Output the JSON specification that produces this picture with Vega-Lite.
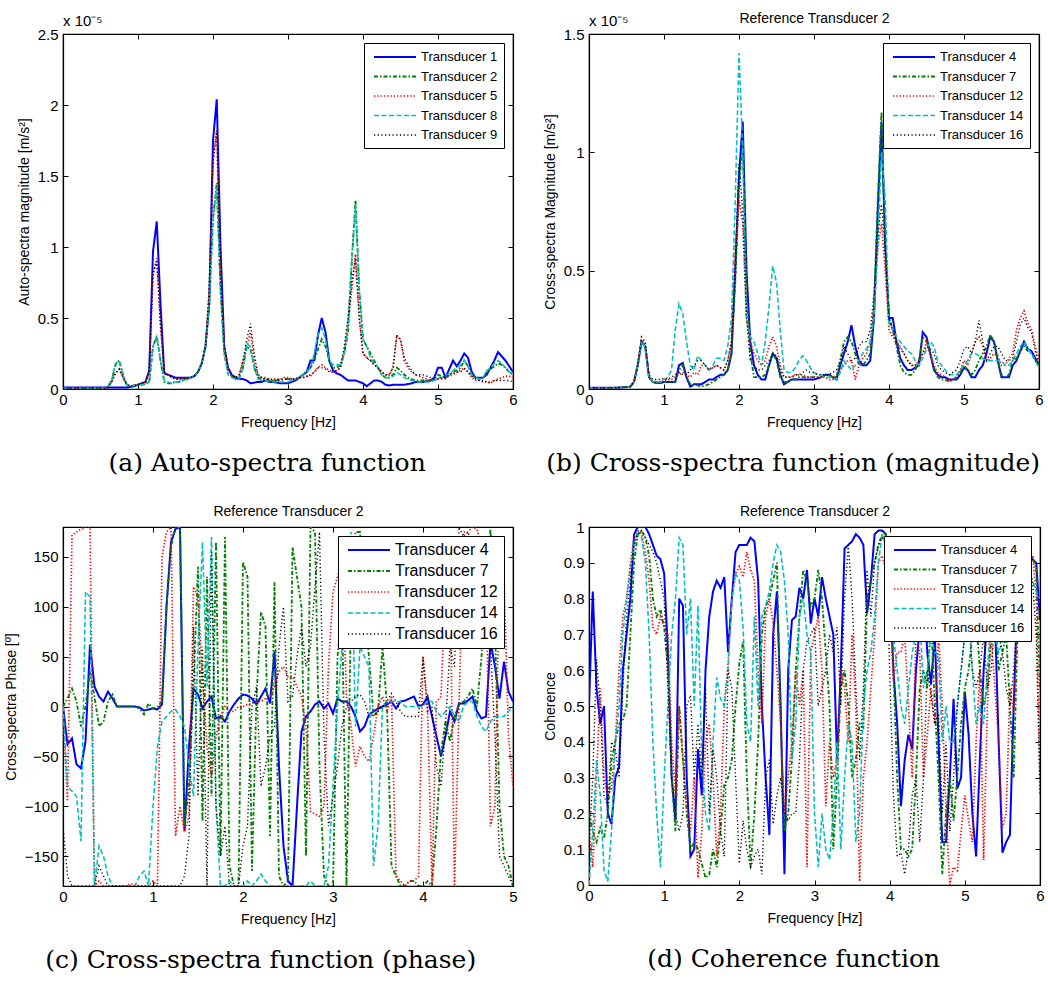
{
"$schema":"https://vega.github.io/schema/vega-lite/v6.json",
"padding":{"left":3,"top":10,"right":2,"bottom":2},
"config":{
 "font":"Liberation Sans",
 "view":{"stroke":"black","strokeWidth":1.2},
 "axis":{"domainColor":"black","domainWidth":1.2,"tickColor":"black","tickSize":-5,"labelPadding":10,"labelFontSize":15,"labelColor":"black","titleFontSize":14,"titleFontWeight":"normal","titleColor":"black","grid":false,"labelFlush":false,"labelOverlap":false},
 "axisY":{"titlePadding":6},
 "axisX":{"titlePadding":8,"labelPadding":8},
 "legend":{"orient":"top-right","offset":9,"strokeColor":"black","fillColor":"white","padding":6,"labelFontSize":13,"labelColor":"black","symbolType":"M-3,0L3,0","symbolSize":196,"symbolOffset":17,"labelOffset":18,"rowPadding":4.5,"cornerRadius":0},
 "title":{"font":"DejaVu Serif","fontSize":25,"fontWeight":"normal","color":"black","anchor":"middle","frame":"bounds","orient":"bottom","offset":22},
 "text":{"font":"Liberation Sans"}
},
"datasets":{
"a":[
{"f":0,"T1":0.01,"T2":0.005,"T5":0.005,"T8":0.005,"T9":0.005},
{"f":0.1,"T1":0.01,"T2":0.005,"T5":0.005,"T8":0.005,"T9":0.005},
{"f":0.2,"T1":0.01,"T2":0.005,"T5":0.005,"T8":0.005,"T9":0.005},
{"f":0.3,"T1":0.01,"T2":0.005,"T5":0.005,"T8":0.005,"T9":0.005},
{"f":0.4,"T1":0.01,"T2":0.005,"T5":0.005,"T8":0.005,"T9":0.005},
{"f":0.5,"T1":0.01,"T2":0.005,"T5":0.005,"T8":0.005,"T9":0.005},
{"f":0.55,"T1":0.01,"T2":0.005,"T5":0.005,"T8":0.005,"T9":0.005},
{"f":0.6,"T1":0.01,"T2":0.02,"T5":0.01,"T8":0.02,"T9":0.01},
{"f":0.65,"T1":0.01,"T2":0.06,"T5":0.05,"T8":0.06,"T9":0.05},
{"f":0.7,"T1":0.01,"T2":0.17,"T5":0.11,"T8":0.18,"T9":0.11},
{"f":0.75,"T1":0.01,"T2":0.2,"T5":0.14,"T8":0.2,"T9":0.14},
{"f":0.8,"T1":0.01,"T2":0.1,"T5":0.08,"T8":0.1,"T9":0.08},
{"f":0.85,"T1":0.01,"T2":0.03,"T5":0.03,"T8":0.03,"T9":0.03},
{"f":0.9,"T1":0.015,"T2":0.02,"T5":0.02,"T8":0.02,"T9":0.02},
{"f":0.95,"T1":0.02,"T2":0.025,"T5":0.025,"T8":0.025,"T9":0.025},
{"f":1.0,"T1":0.03,"T2":0.03,"T5":0.03,"T8":0.03,"T9":0.03},
{"f":1.05,"T1":0.04,"T2":0.03,"T5":0.04,"T8":0.03,"T9":0.04},
{"f":1.1,"T1":0.05,"T2":0.035,"T5":0.05,"T8":0.035,"T9":0.05},
{"f":1.15,"T1":0.13,"T2":0.05,"T5":0.12,"T8":0.05,"T9":0.12},
{"f":1.2,"T1":0.97,"T2":0.3,"T5":0.8,"T8":0.3,"T9":0.82},
{"f":1.25,"T1":1.18,"T2":0.37,"T5":0.92,"T8":0.37,"T9":0.9},
{"f":1.3,"T1":0.6,"T2":0.2,"T5":0.45,"T8":0.2,"T9":0.45},
{"f":1.35,"T1":0.11,"T2":0.05,"T5":0.12,"T8":0.06,"T9":0.12},
{"f":1.4,"T1":0.1,"T2":0.04,"T5":0.1,"T8":0.05,"T9":0.1},
{"f":1.45,"T1":0.09,"T2":0.04,"T5":0.08,"T8":0.04,"T9":0.08},
{"f":1.5,"T1":0.08,"T2":0.05,"T5":0.07,"T8":0.05,"T9":0.07},
{"f":1.55,"T1":0.08,"T2":0.05,"T5":0.07,"T8":0.05,"T9":0.07},
{"f":1.6,"T1":0.08,"T2":0.06,"T5":0.07,"T8":0.06,"T9":0.07},
{"f":1.65,"T1":0.08,"T2":0.07,"T5":0.08,"T8":0.07,"T9":0.08},
{"f":1.7,"T1":0.08,"T2":0.08,"T5":0.08,"T8":0.08,"T9":0.08},
{"f":1.75,"T1":0.09,"T2":0.09,"T5":0.09,"T8":0.09,"T9":0.09},
{"f":1.8,"T1":0.12,"T2":0.12,"T5":0.12,"T8":0.12,"T9":0.12},
{"f":1.85,"T1":0.18,"T2":0.18,"T5":0.18,"T8":0.18,"T9":0.18},
{"f":1.9,"T1":0.3,"T2":0.3,"T5":0.3,"T8":0.3,"T9":0.3},
{"f":1.95,"T1":0.6,"T2":0.6,"T5":0.7,"T8":0.6,"T9":0.7},
{"f":2.0,"T1":1.75,"T2":1.2,"T5":1.6,"T8":1.2,"T9":1.6},
{"f":2.05,"T1":2.04,"T2":1.45,"T5":1.82,"T8":1.42,"T9":1.82},
{"f":2.1,"T1":1.0,"T2":0.7,"T5":0.8,"T8":0.7,"T9":0.8},
{"f":2.15,"T1":0.3,"T2":0.25,"T5":0.3,"T8":0.25,"T9":0.3},
{"f":2.2,"T1":0.15,"T2":0.12,"T5":0.15,"T8":0.1,"T9":0.15},
{"f":2.25,"T1":0.1,"T2":0.09,"T5":0.1,"T8":0.08,"T9":0.1},
{"f":2.3,"T1":0.08,"T2":0.07,"T5":0.08,"T8":0.07,"T9":0.08},
{"f":2.35,"T1":0.07,"T2":0.08,"T5":0.1,"T8":0.07,"T9":0.1},
{"f":2.4,"T1":0.07,"T2":0.15,"T5":0.2,"T8":0.15,"T9":0.2},
{"f":2.45,"T1":0.06,"T2":0.3,"T5":0.3,"T8":0.32,"T9":0.35},
{"f":2.5,"T1":0.04,"T2":0.28,"T5":0.4,"T8":0.3,"T9":0.46},
{"f":2.55,"T1":0.045,"T2":0.15,"T5":0.2,"T8":0.15,"T9":0.25},
{"f":2.6,"T1":0.05,"T2":0.08,"T5":0.1,"T8":0.07,"T9":0.1},
{"f":2.65,"T1":0.05,"T2":0.07,"T5":0.08,"T8":0.06,"T9":0.08},
{"f":2.7,"T1":0.06,"T2":0.07,"T5":0.08,"T8":0.06,"T9":0.07},
{"f":2.75,"T1":0.05,"T2":0.06,"T5":0.07,"T8":0.05,"T9":0.07},
{"f":2.8,"T1":0.05,"T2":0.06,"T5":0.07,"T8":0.05,"T9":0.06},
{"f":2.85,"T1":0.045,"T2":0.06,"T5":0.07,"T8":0.05,"T9":0.06},
{"f":2.9,"T1":0.04,"T2":0.07,"T5":0.07,"T8":0.05,"T9":0.06},
{"f":2.95,"T1":0.04,"T2":0.07,"T5":0.08,"T8":0.05,"T9":0.07},
{"f":3.0,"T1":0.04,"T2":0.07,"T5":0.08,"T8":0.05,"T9":0.07},
{"f":3.05,"T1":0.05,"T2":0.07,"T5":0.07,"T8":0.06,"T9":0.07},
{"f":3.1,"T1":0.06,"T2":0.07,"T5":0.07,"T8":0.07,"T9":0.07},
{"f":3.15,"T1":0.08,"T2":0.08,"T5":0.08,"T8":0.08,"T9":0.08},
{"f":3.2,"T1":0.1,"T2":0.1,"T5":0.08,"T8":0.1,"T9":0.08},
{"f":3.25,"T1":0.12,"T2":0.12,"T5":0.09,"T8":0.12,"T9":0.09},
{"f":3.3,"T1":0.2,"T2":0.15,"T5":0.1,"T8":0.15,"T9":0.09},
{"f":3.35,"T1":0.2,"T2":0.2,"T5":0.12,"T8":0.25,"T9":0.12},
{"f":3.4,"T1":0.38,"T2":0.28,"T5":0.15,"T8":0.38,"T9":0.15},
{"f":3.45,"T1":0.5,"T2":0.35,"T5":0.17,"T8":0.43,"T9":0.15},
{"f":3.5,"T1":0.4,"T2":0.3,"T5":0.15,"T8":0.35,"T9":0.14},
{"f":3.55,"T1":0.2,"T2":0.2,"T5":0.13,"T8":0.2,"T9":0.12},
{"f":3.6,"T1":0.13,"T2":0.15,"T5":0.12,"T8":0.17,"T9":0.12},
{"f":3.65,"T1":0.11,"T2":0.15,"T5":0.13,"T8":0.17,"T9":0.13},
{"f":3.7,"T1":0.1,"T2":0.17,"T5":0.15,"T8":0.17,"T9":0.15},
{"f":3.75,"T1":0.08,"T2":0.25,"T5":0.25,"T8":0.25,"T9":0.3},
{"f":3.8,"T1":0.06,"T2":0.4,"T5":0.45,"T8":0.45,"T9":0.5},
{"f":3.85,"T1":0.06,"T2":0.9,"T5":0.7,"T8":0.9,"T9":0.75},
{"f":3.9,"T1":0.06,"T2":1.33,"T5":0.95,"T8":1.3,"T9":0.92},
{"f":3.95,"T1":0.05,"T2":0.7,"T5":0.5,"T8":0.7,"T9":0.5},
{"f":4.0,"T1":0.04,"T2":0.35,"T5":0.25,"T8":0.35,"T9":0.25},
{"f":4.05,"T1":0.02,"T2":0.3,"T5":0.22,"T8":0.3,"T9":0.22},
{"f":4.1,"T1":0.04,"T2":0.25,"T5":0.2,"T8":0.22,"T9":0.2},
{"f":4.15,"T1":0.06,"T2":0.2,"T5":0.17,"T8":0.18,"T9":0.17},
{"f":4.2,"T1":0.06,"T2":0.15,"T5":0.15,"T8":0.15,"T9":0.15},
{"f":4.25,"T1":0.05,"T2":0.1,"T5":0.12,"T8":0.1,"T9":0.12},
{"f":4.3,"T1":0.03,"T2":0.08,"T5":0.1,"T8":0.08,"T9":0.1},
{"f":4.35,"T1":0.025,"T2":0.08,"T5":0.1,"T8":0.08,"T9":0.1},
{"f":4.4,"T1":0.03,"T2":0.1,"T5":0.15,"T8":0.09,"T9":0.15},
{"f":4.45,"T1":0.03,"T2":0.15,"T5":0.37,"T8":0.12,"T9":0.38},
{"f":4.5,"T1":0.03,"T2":0.13,"T5":0.35,"T8":0.1,"T9":0.35},
{"f":4.55,"T1":0.03,"T2":0.1,"T5":0.2,"T8":0.08,"T9":0.22},
{"f":4.6,"T1":0.035,"T2":0.08,"T5":0.15,"T8":0.07,"T9":0.17},
{"f":4.65,"T1":0.04,"T2":0.07,"T5":0.12,"T8":0.06,"T9":0.13},
{"f":4.7,"T1":0.05,"T2":0.06,"T5":0.1,"T8":0.05,"T9":0.1},
{"f":4.75,"T1":0.05,"T2":0.06,"T5":0.09,"T8":0.05,"T9":0.1},
{"f":4.8,"T1":0.05,"T2":0.06,"T5":0.08,"T8":0.05,"T9":0.1},
{"f":4.85,"T1":0.055,"T2":0.06,"T5":0.07,"T8":0.05,"T9":0.09},
{"f":4.9,"T1":0.06,"T2":0.06,"T5":0.06,"T8":0.05,"T9":0.08},
{"f":4.95,"T1":0.08,"T2":0.07,"T5":0.06,"T8":0.06,"T9":0.07},
{"f":5.0,"T1":0.15,"T2":0.1,"T5":0.07,"T8":0.08,"T9":0.07},
{"f":5.05,"T1":0.15,"T2":0.09,"T5":0.07,"T8":0.08,"T9":0.08},
{"f":5.1,"T1":0.08,"T2":0.08,"T5":0.08,"T8":0.09,"T9":0.08},
{"f":5.15,"T1":0.14,"T2":0.1,"T5":0.09,"T8":0.11,"T9":0.1},
{"f":5.2,"T1":0.2,"T2":0.12,"T5":0.1,"T8":0.13,"T9":0.11},
{"f":5.25,"T1":0.16,"T2":0.13,"T5":0.12,"T8":0.15,"T9":0.12},
{"f":5.3,"T1":0.2,"T2":0.15,"T5":0.13,"T8":0.17,"T9":0.12},
{"f":5.35,"T1":0.25,"T2":0.2,"T5":0.15,"T8":0.2,"T9":0.14},
{"f":5.4,"T1":0.22,"T2":0.16,"T5":0.12,"T8":0.16,"T9":0.12},
{"f":5.45,"T1":0.12,"T2":0.1,"T5":0.08,"T8":0.1,"T9":0.09},
{"f":5.5,"T1":0.08,"T2":0.08,"T5":0.06,"T8":0.08,"T9":0.07},
{"f":5.55,"T1":0.08,"T2":0.07,"T5":0.06,"T8":0.07,"T9":0.06},
{"f":5.6,"T1":0.08,"T2":0.08,"T5":0.05,"T8":0.08,"T9":0.06},
{"f":5.65,"T1":0.1,"T2":0.12,"T5":0.05,"T8":0.13,"T9":0.05},
{"f":5.7,"T1":0.15,"T2":0.14,"T5":0.04,"T8":0.15,"T9":0.05},
{"f":5.75,"T1":0.2,"T2":0.16,"T5":0.06,"T8":0.18,"T9":0.06},
{"f":5.8,"T1":0.26,"T2":0.18,"T5":0.07,"T8":0.2,"T9":0.06},
{"f":5.85,"T1":0.23,"T2":0.17,"T5":0.08,"T8":0.18,"T9":0.06},
{"f":5.9,"T1":0.2,"T2":0.15,"T5":0.09,"T8":0.15,"T9":0.06},
{"f":5.95,"T1":0.16,"T2":0.12,"T5":0.09,"T8":0.12,"T9":0.06},
{"f":6.0,"T1":0.12,"T2":0.1,"T5":0.08,"T8":0.1,"T9":0.05}
],
"b":[
{"f":0,"T4":0.005,"T7":0.005,"T12":0.005,"T14":0.005,"T16":0.005},
{"f":0.1,"T4":0.005,"T7":0.005,"T12":0.005,"T14":0.005,"T16":0.005},
{"f":0.2,"T4":0.005,"T7":0.005,"T12":0.005,"T14":0.005,"T16":0.005},
{"f":0.3,"T4":0.005,"T7":0.005,"T12":0.005,"T14":0.005,"T16":0.005},
{"f":0.4,"T4":0.006,"T7":0.006,"T12":0.006,"T14":0.006,"T16":0.006},
{"f":0.5,"T4":0.008,"T7":0.008,"T12":0.008,"T14":0.008,"T16":0.008},
{"f":0.55,"T4":0.01,"T7":0.01,"T12":0.01,"T14":0.01,"T16":0.01},
{"f":0.6,"T4":0.03,"T7":0.03,"T12":0.03,"T14":0.03,"T16":0.03},
{"f":0.65,"T4":0.1,"T7":0.1,"T12":0.1,"T14":0.1,"T16":0.1},
{"f":0.7,"T4":0.2,"T7":0.2,"T12":0.21,"T14":0.2,"T16":0.22},
{"f":0.75,"T4":0.18,"T7":0.18,"T12":0.19,"T14":0.18,"T16":0.2},
{"f":0.8,"T4":0.05,"T7":0.05,"T12":0.05,"T14":0.05,"T16":0.06},
{"f":0.85,"T4":0.03,"T7":0.03,"T12":0.03,"T14":0.03,"T16":0.04},
{"f":0.9,"T4":0.025,"T7":0.025,"T12":0.03,"T14":0.03,"T16":0.04},
{"f":0.95,"T4":0.025,"T7":0.025,"T12":0.03,"T14":0.03,"T16":0.04},
{"f":1.0,"T4":0.03,"T7":0.03,"T12":0.035,"T14":0.04,"T16":0.045},
{"f":1.05,"T4":0.03,"T7":0.03,"T12":0.04,"T14":0.05,"T16":0.04},
{"f":1.1,"T4":0.03,"T7":0.03,"T12":0.04,"T14":0.08,"T16":0.05},
{"f":1.15,"T4":0.03,"T7":0.03,"T12":0.05,"T14":0.25,"T16":0.06},
{"f":1.2,"T4":0.1,"T7":0.08,"T12":0.06,"T14":0.36,"T16":0.07},
{"f":1.25,"T4":0.11,"T7":0.1,"T12":0.07,"T14":0.32,"T16":0.06},
{"f":1.3,"T4":0.05,"T7":0.05,"T12":0.06,"T14":0.2,"T16":0.06},
{"f":1.35,"T4":0.01,"T7":0.02,"T12":0.05,"T14":0.1,"T16":0.08},
{"f":1.4,"T4":0.02,"T7":0.02,"T12":0.07,"T14":0.08,"T16":0.1},
{"f":1.45,"T4":0.02,"T7":0.015,"T12":0.06,"T14":0.14,"T16":0.12},
{"f":1.5,"T4":0.02,"T7":0.01,"T12":0.1,"T14":0.12,"T16":0.12},
{"f":1.55,"T4":0.03,"T7":0.015,"T12":0.1,"T14":0.1,"T16":0.1},
{"f":1.6,"T4":0.04,"T7":0.02,"T12":0.08,"T14":0.08,"T16":0.08},
{"f":1.65,"T4":0.04,"T7":0.03,"T12":0.09,"T14":0.1,"T16":0.09},
{"f":1.7,"T4":0.05,"T7":0.04,"T12":0.1,"T14":0.13,"T16":0.1},
{"f":1.75,"T4":0.06,"T7":0.05,"T12":0.09,"T14":0.13,"T16":0.09},
{"f":1.8,"T4":0.06,"T7":0.06,"T12":0.08,"T14":0.12,"T16":0.08},
{"f":1.85,"T4":0.08,"T7":0.08,"T12":0.12,"T14":0.18,"T16":0.12},
{"f":1.9,"T4":0.15,"T7":0.15,"T12":0.2,"T14":0.3,"T16":0.2},
{"f":1.95,"T4":0.5,"T7":0.45,"T12":0.6,"T14":0.8,"T16":0.5},
{"f":2.0,"T4":0.9,"T7":0.85,"T12":0.8,"T14":1.42,"T16":0.95},
{"f":2.05,"T4":1.13,"T7":1.05,"T12":0.7,"T14":1.0,"T16":0.75},
{"f":2.1,"T4":0.5,"T7":0.4,"T12":0.3,"T14":0.3,"T16":0.3},
{"f":2.15,"T4":0.2,"T7":0.15,"T12":0.2,"T14":0.22,"T16":0.12},
{"f":2.2,"T4":0.1,"T7":0.05,"T12":0.15,"T14":0.2,"T16":0.1},
{"f":2.25,"T4":0.06,"T7":0.05,"T12":0.12,"T14":0.15,"T16":0.08},
{"f":2.3,"T4":0.04,"T7":0.05,"T12":0.1,"T14":0.1,"T16":0.08},
{"f":2.35,"T4":0.04,"T7":0.06,"T12":0.12,"T14":0.2,"T16":0.1},
{"f":2.4,"T4":0.1,"T7":0.1,"T12":0.18,"T14":0.35,"T16":0.12},
{"f":2.45,"T4":0.15,"T7":0.15,"T12":0.22,"T14":0.52,"T16":0.15},
{"f":2.5,"T4":0.13,"T7":0.12,"T12":0.18,"T14":0.45,"T16":0.14},
{"f":2.55,"T4":0.06,"T7":0.05,"T12":0.1,"T14":0.25,"T16":0.08},
{"f":2.6,"T4":0.02,"T7":0.03,"T12":0.05,"T14":0.08,"T16":0.05},
{"f":2.65,"T4":0.03,"T7":0.03,"T12":0.05,"T14":0.07,"T16":0.05},
{"f":2.7,"T4":0.04,"T7":0.04,"T12":0.05,"T14":0.07,"T16":0.05},
{"f":2.75,"T4":0.04,"T7":0.04,"T12":0.06,"T14":0.09,"T16":0.06},
{"f":2.8,"T4":0.04,"T7":0.05,"T12":0.06,"T14":0.12,"T16":0.06},
{"f":2.85,"T4":0.04,"T7":0.05,"T12":0.06,"T14":0.14,"T16":0.07},
{"f":2.9,"T4":0.04,"T7":0.05,"T12":0.05,"T14":0.12,"T16":0.08},
{"f":2.95,"T4":0.04,"T7":0.05,"T12":0.05,"T14":0.09,"T16":0.07},
{"f":3.0,"T4":0.04,"T7":0.05,"T12":0.05,"T14":0.07,"T16":0.07},
{"f":3.05,"T4":0.045,"T7":0.05,"T12":0.05,"T14":0.06,"T16":0.06},
{"f":3.1,"T4":0.05,"T7":0.05,"T12":0.05,"T14":0.06,"T16":0.06},
{"f":3.15,"T4":0.06,"T7":0.06,"T12":0.05,"T14":0.05,"T16":0.06},
{"f":3.2,"T4":0.06,"T7":0.06,"T12":0.04,"T14":0.05,"T16":0.06},
{"f":3.25,"T4":0.05,"T7":0.05,"T12":0.04,"T14":0.05,"T16":0.07},
{"f":3.3,"T4":0.04,"T7":0.05,"T12":0.06,"T14":0.04,"T16":0.08},
{"f":3.35,"T4":0.1,"T7":0.12,"T12":0.08,"T14":0.07,"T16":0.12},
{"f":3.4,"T4":0.15,"T7":0.2,"T12":0.1,"T14":0.12,"T16":0.18},
{"f":3.45,"T4":0.2,"T7":0.22,"T12":0.12,"T14":0.1,"T16":0.15},
{"f":3.5,"T4":0.27,"T7":0.2,"T12":0.12,"T14":0.08,"T16":0.12},
{"f":3.55,"T4":0.18,"T7":0.15,"T12":0.04,"T14":0.1,"T16":0.13},
{"f":3.6,"T4":0.12,"T7":0.1,"T12":0.1,"T14":0.12,"T16":0.18},
{"f":3.65,"T4":0.1,"T7":0.1,"T12":0.13,"T14":0.15,"T16":0.2},
{"f":3.7,"T4":0.1,"T7":0.12,"T12":0.15,"T14":0.17,"T16":0.2},
{"f":3.75,"T4":0.12,"T7":0.15,"T12":0.2,"T14":0.2,"T16":0.25},
{"f":3.8,"T4":0.3,"T7":0.35,"T12":0.35,"T14":0.3,"T16":0.4},
{"f":3.85,"T4":0.75,"T7":0.8,"T12":0.6,"T14":0.6,"T16":0.65},
{"f":3.9,"T4":1.13,"T7":1.17,"T12":0.7,"T14":1.0,"T16":0.78},
{"f":3.95,"T4":0.6,"T7":0.6,"T12":0.5,"T14":0.8,"T16":0.6},
{"f":4.0,"T4":0.3,"T7":0.3,"T12":0.25,"T14":0.28,"T16":0.3},
{"f":4.05,"T4":0.3,"T7":0.25,"T12":0.22,"T14":0.25,"T16":0.25},
{"f":4.1,"T4":0.2,"T7":0.18,"T12":0.2,"T14":0.22,"T16":0.2},
{"f":4.15,"T4":0.13,"T7":0.1,"T12":0.18,"T14":0.2,"T16":0.17},
{"f":4.2,"T4":0.1,"T7":0.07,"T12":0.15,"T14":0.18,"T16":0.15},
{"f":4.25,"T4":0.08,"T7":0.06,"T12":0.12,"T14":0.16,"T16":0.12},
{"f":4.3,"T4":0.08,"T7":0.06,"T12":0.1,"T14":0.15,"T16":0.1},
{"f":4.35,"T4":0.09,"T7":0.08,"T12":0.1,"T14":0.12,"T16":0.1},
{"f":4.4,"T4":0.1,"T7":0.12,"T12":0.12,"T14":0.1,"T16":0.12},
{"f":4.45,"T4":0.24,"T7":0.22,"T12":0.15,"T14":0.13,"T16":0.15},
{"f":4.5,"T4":0.22,"T7":0.2,"T12":0.2,"T14":0.17,"T16":0.18},
{"f":4.55,"T4":0.15,"T7":0.15,"T12":0.15,"T14":0.2,"T16":0.17},
{"f":4.6,"T4":0.08,"T7":0.09,"T12":0.1,"T14":0.18,"T16":0.15},
{"f":4.65,"T4":0.06,"T7":0.05,"T12":0.07,"T14":0.12,"T16":0.1},
{"f":4.7,"T4":0.05,"T7":0.04,"T12":0.06,"T14":0.1,"T16":0.08},
{"f":4.75,"T4":0.05,"T7":0.04,"T12":0.05,"T14":0.08,"T16":0.07},
{"f":4.8,"T4":0.04,"T7":0.03,"T12":0.03,"T14":0.06,"T16":0.06},
{"f":4.85,"T4":0.04,"T7":0.04,"T12":0.04,"T14":0.06,"T16":0.07},
{"f":4.9,"T4":0.04,"T7":0.05,"T12":0.05,"T14":0.06,"T16":0.08},
{"f":4.95,"T4":0.06,"T7":0.07,"T12":0.08,"T14":0.08,"T16":0.12},
{"f":5.0,"T4":0.09,"T7":0.1,"T12":0.12,"T14":0.1,"T16":0.17},
{"f":5.05,"T4":0.08,"T7":0.08,"T12":0.1,"T14":0.12,"T16":0.18},
{"f":5.1,"T4":0.05,"T7":0.06,"T12":0.15,"T14":0.15,"T16":0.15},
{"f":5.15,"T4":0.05,"T7":0.08,"T12":0.2,"T14":0.15,"T16":0.2},
{"f":5.2,"T4":0.08,"T7":0.12,"T12":0.22,"T14":0.14,"T16":0.29},
{"f":5.25,"T4":0.1,"T7":0.15,"T12":0.18,"T14":0.13,"T16":0.2},
{"f":5.3,"T4":0.15,"T7":0.18,"T12":0.12,"T14":0.12,"T16":0.12},
{"f":5.35,"T4":0.22,"T7":0.23,"T12":0.13,"T14":0.12,"T16":0.15},
{"f":5.4,"T4":0.2,"T7":0.2,"T12":0.15,"T14":0.12,"T16":0.18},
{"f":5.45,"T4":0.12,"T7":0.12,"T12":0.14,"T14":0.12,"T16":0.18},
{"f":5.5,"T4":0.05,"T7":0.06,"T12":0.1,"T14":0.12,"T16":0.15},
{"f":5.55,"T4":0.05,"T7":0.05,"T12":0.1,"T14":0.1,"T16":0.12},
{"f":5.6,"T4":0.05,"T7":0.06,"T12":0.13,"T14":0.1,"T16":0.12},
{"f":5.65,"T4":0.1,"T7":0.12,"T12":0.15,"T14":0.12,"T16":0.13},
{"f":5.7,"T4":0.12,"T7":0.13,"T12":0.25,"T14":0.15,"T16":0.2},
{"f":5.75,"T4":0.16,"T7":0.16,"T12":0.3,"T14":0.18,"T16":0.27},
{"f":5.8,"T4":0.2,"T7":0.18,"T12":0.33,"T14":0.2,"T16":0.3},
{"f":5.85,"T4":0.17,"T7":0.16,"T12":0.28,"T14":0.17,"T16":0.26},
{"f":5.9,"T4":0.16,"T7":0.15,"T12":0.25,"T14":0.15,"T16":0.24},
{"f":5.95,"T4":0.13,"T7":0.12,"T12":0.18,"T14":0.12,"T16":0.16},
{"f":6.0,"T4":0.1,"T7":0.1,"T12":0.12,"T14":0.09,"T16":0.1}
],
"c":[
{"f":0,"T4":0,"T7":0,"T12":-10,"T14":0,"T16":-120},
{"f":0.05,"T4":-38,"T7":8,"T12":-95,"T14":-80,"T16":-170},
{"f":0.1,"T4":-32,"T7":18,"T12":172,"T14":-85,"T16":-180},
{"f":0.15,"T4":-58,"T7":5,"T12":175,"T14":-90,"T16":-180},
{"f":0.2,"T4":-62,"T7":-20,"T12":178,"T14":-135,"T16":-180},
{"f":0.25,"T4":-35,"T7":0,"T12":180,"T14":115,"T16":-180},
{"f":0.3,"T4":62,"T7":35,"T12":180,"T14":110,"T16":-180},
{"f":0.35,"T4":20,"T7":10,"T12":-180,"T14":-180,"T16":-180},
{"f":0.4,"T4":10,"T7":-20,"T12":-175,"T14":-140,"T16":-160},
{"f":0.45,"T4":5,"T7":-15,"T12":-180,"T14":-150,"T16":-170},
{"f":0.5,"T4":15,"T7":5,"T12":-180,"T14":-170,"T16":-180},
{"f":0.55,"T4":8,"T7":12,"T12":-180,"T14":-180,"T16":-180},
{"f":0.6,"T4":0,"T7":0,"T12":-180,"T14":-180,"T16":-180},
{"f":0.65,"T4":0,"T7":0,"T12":-180,"T14":-180,"T16":-180},
{"f":0.7,"T4":0,"T7":0,"T12":-180,"T14":-180,"T16":-180},
{"f":0.75,"T4":0,"T7":0,"T12":-178,"T14":-180,"T16":-180},
{"f":0.8,"T4":0,"T7":0,"T12":-178,"T14":-180,"T16":-180},
{"f":0.85,"T4":-1,"T7":-2,"T12":-180,"T14":-170,"T16":-180},
{"f":0.9,"T4":-4,"T7":-8,"T12":-180,"T14":-165,"T16":-180},
{"f":0.95,"T4":-3,"T7":3,"T12":-180,"T14":-180,"T16":-180},
{"f":1.0,"T4":-2,"T7":-2,"T12":-175,"T14":-100,"T16":-180},
{"f":1.05,"T4":-3,"T7":0,"T12":-180,"T14":-40,"T16":-180},
{"f":1.1,"T4":2,"T7":5,"T12":150,"T14":-15,"T16":-180},
{"f":1.15,"T4":100,"T7":100,"T12":175,"T14":-10,"T16":-180},
{"f":1.2,"T4":165,"T7":160,"T12":180,"T14":-5,"T16":-180},
{"f":1.25,"T4":178,"T7":180,"T12":-130,"T14":-3,"T16":-180},
{"f":1.3,"T4":180,"T7":180,"T12":-100,"T14":-10,"T16":-180},
{"f":1.35,"T4":-125,"T7":-120,"T12":-125,"T14":-20,"T16":-170},
{"f":1.4,"T4":-40,"T7":-80,"T12":-110,"T14":-60,"T16":-130},
{"f":1.45,"T4":18,"T7":20,"T12":120,"T14":-90,"T16":80},
{"f":1.5,"T4":12,"T7":140,"T12":110,"T14":60,"T16":-90},
{"f":1.55,"T4":-2,"T7":-115,"T12":30,"T14":165,"T16":60},
{"f":1.6,"T4":5,"T7":130,"T12":-40,"T14":20,"T16":-180},
{"f":1.65,"T4":10,"T7":-90,"T12":-70,"T14":170,"T16":155},
{"f":1.7,"T4":-12,"T7":165,"T12":-30,"T14":-100,"T16":-100},
{"f":1.75,"T4":-10,"T7":-150,"T12":-10,"T14":-180,"T16":-150},
{"f":1.8,"T4":-15,"T7":170,"T12":0,"T14":-180,"T16":-120},
{"f":1.85,"T4":-5,"T7":-160,"T12":-5,"T14":-175,"T16":-180},
{"f":1.9,"T4":2,"T7":-180,"T12":-5,"T14":-180,"T16":-180},
{"f":1.95,"T4":8,"T7":-180,"T12":0,"T14":-180,"T16":-180},
{"f":2.0,"T4":12,"T7":145,"T12":0,"T14":-180,"T16":-140},
{"f":2.05,"T4":11,"T7":130,"T12":2,"T14":-175,"T16":-120},
{"f":2.1,"T4":8,"T7":-165,"T12":3,"T14":-180,"T16":0},
{"f":2.15,"T4":2,"T7":10,"T12":5,"T14":-175,"T16":20},
{"f":2.2,"T4":10,"T7":95,"T12":5,"T14":-168,"T16":-80},
{"f":2.25,"T4":18,"T7":80,"T12":8,"T14":-175,"T16":-60},
{"f":2.3,"T4":3,"T7":-130,"T12":10,"T14":-180,"T16":-30},
{"f":2.35,"T4":55,"T7":125,"T12":20,"T14":-180,"T16":-20},
{"f":2.4,"T4":-60,"T7":-170,"T12":35,"T14":-180,"T16":60},
{"f":2.45,"T4":-140,"T7":-180,"T12":40,"T14":-180,"T16":100},
{"f":2.5,"T4":-175,"T7":-175,"T12":30,"T14":-180,"T16":5},
{"f":2.55,"T4":-180,"T7":160,"T12":30,"T14":-180,"T16":10},
{"f":2.6,"T4":-100,"T7":130,"T12":20,"T14":-180,"T16":50},
{"f":2.65,"T4":-25,"T7":100,"T12":10,"T14":-180,"T16":80},
{"f":2.7,"T4":-10,"T7":-150,"T12":-20,"T14":-180,"T16":40},
{"f":2.75,"T4":-5,"T7":180,"T12":-105,"T14":-175,"T16":60},
{"f":2.8,"T4":2,"T7":175,"T12":-108,"T14":-180,"T16":120},
{"f":2.85,"T4":5,"T7":-60,"T12":-110,"T14":-180,"T16":175},
{"f":2.9,"T4":-2,"T7":-170,"T12":-100,"T14":-180,"T16":-30},
{"f":2.95,"T4":3,"T7":-180,"T12":40,"T14":-160,"T16":-120},
{"f":3.0,"T4":-7,"T7":-180,"T12":115,"T14":-80,"T16":-90},
{"f":3.05,"T4":8,"T7":50,"T12":130,"T14":0,"T16":-60},
{"f":3.1,"T4":5,"T7":100,"T12":145,"T14":60,"T16":-20},
{"f":3.15,"T4":5,"T7":-180,"T12":10,"T14":80,"T16":0},
{"f":3.2,"T4":0,"T7":100,"T12":-20,"T14":175,"T16":5},
{"f":3.25,"T4":-10,"T7":175,"T12":-60,"T14":-20,"T16":10},
{"f":3.3,"T4":-25,"T7":175,"T12":-40,"T14":60,"T16":12},
{"f":3.35,"T4":-20,"T7":95,"T12":-50,"T14":50,"T16":5},
{"f":3.4,"T4":-8,"T7":50,"T12":-55,"T14":40,"T16":-10},
{"f":3.45,"T4":-5,"T7":-10,"T12":-30,"T14":-160,"T16":-8},
{"f":3.5,"T4":-2,"T7":-5,"T12":0,"T14":-120,"T16":-5},
{"f":3.55,"T4":0,"T7":60,"T12":10,"T14":0,"T16":0},
{"f":3.6,"T4":2,"T7":0,"T12":-5,"T14":5,"T16":5},
{"f":3.65,"T4":5,"T7":-160,"T12":10,"T14":5,"T16":13},
{"f":3.7,"T4":-2,"T7":-170,"T12":-170,"T14":5,"T16":5},
{"f":3.75,"T4":5,"T7":-180,"T12":-175,"T14":5,"T16":-5},
{"f":3.8,"T4":6,"T7":-180,"T12":-180,"T14":0,"T16":-10},
{"f":3.85,"T4":8,"T7":-175,"T12":-175,"T14":0,"T16":-10},
{"f":3.9,"T4":10,"T7":-175,"T12":-175,"T14":0,"T16":-10},
{"f":3.95,"T4":0,"T7":-180,"T12":-170,"T14":0,"T16":-10},
{"f":4.0,"T4":2,"T7":-180,"T12":50,"T14":0,"T16":50},
{"f":4.05,"T4":10,"T7":-175,"T12":0,"T14":5,"T16":-5},
{"f":4.1,"T4":-10,"T7":-180,"T12":-180,"T14":5,"T16":0},
{"f":4.15,"T4":-30,"T7":-120,"T12":5,"T14":-5,"T16":-60},
{"f":4.2,"T4":-50,"T7":-45,"T12":10,"T14":-10,"T16":-80},
{"f":4.25,"T4":-30,"T7":-15,"T12":120,"T14":-5,"T16":-20},
{"f":4.3,"T4":-5,"T7":-35,"T12":130,"T14":0,"T16":60},
{"f":4.35,"T4":-15,"T7":-10,"T12":-180,"T14":-10,"T16":40},
{"f":4.4,"T4":3,"T7":2,"T12":0,"T14":-15,"T16":180},
{"f":4.45,"T4":3,"T7":5,"T12":175,"T14":0,"T16":170},
{"f":4.5,"T4":6,"T7":10,"T12":175,"T14":5,"T16":175},
{"f":4.55,"T4":10,"T7":18,"T12":180,"T14":5,"T16":160},
{"f":4.6,"T4":-5,"T7":0,"T12":178,"T14":-10,"T16":150},
{"f":4.65,"T4":-12,"T7":50,"T12":160,"T14":-20,"T16":120},
{"f":4.7,"T4":-10,"T7":130,"T12":130,"T14":-25,"T16":90},
{"f":4.75,"T4":65,"T7":178,"T12":-120,"T14":-15,"T16":60},
{"f":4.8,"T4":40,"T7":80,"T12":-100,"T14":-10,"T16":-30},
{"f":4.85,"T4":8,"T7":-100,"T12":140,"T14":-10,"T16":-150},
{"f":4.9,"T4":45,"T7":-150,"T12":130,"T14":-10,"T16":-160},
{"f":4.95,"T4":15,"T7":-160,"T12":-30,"T14":-5,"T16":-170},
{"f":5.0,"T4":5,"T7":-180,"T12":-80,"T14":0,"T16":-180}
],
"d":[
{"f":0,"T4":0.5,"T7":0.2,"T12":0.15,"T14":0,"T16":0.1},
{"f":0.05,"T4":0.82,"T7":0.15,"T12":0.05,"T14":0.15,"T16":0.3},
{"f":0.1,"T4":0.55,"T7":0.12,"T12":0.3,"T14":0.35,"T16":0.63},
{"f":0.15,"T4":0.45,"T7":0.16,"T12":0.55,"T14":0.25,"T16":0.5},
{"f":0.2,"T4":0.5,"T7":0.13,"T12":0.3,"T14":0.04,"T16":0.25},
{"f":0.25,"T4":0.2,"T7":0.2,"T12":0.25,"T14":0.01,"T16":0.22},
{"f":0.3,"T4":0.17,"T7":0.35,"T12":0.27,"T14":0.15,"T16":0.4},
{"f":0.35,"T4":0.3,"T7":0.4,"T12":0.4,"T14":0.4,"T16":0.38},
{"f":0.4,"T4":0.33,"T7":0.45,"T12":0.6,"T14":0.5,"T16":0.3},
{"f":0.45,"T4":0.6,"T7":0.46,"T12":0.75,"T14":0.7,"T16":0.55},
{"f":0.5,"T4":0.7,"T7":0.5,"T12":0.8,"T14":0.8,"T16":0.75},
{"f":0.55,"T4":0.8,"T7":0.7,"T12":0.9,"T14":0.88,"T16":0.85},
{"f":0.6,"T4":0.98,"T7":0.9,"T12":0.97,"T14":0.95,"T16":0.95},
{"f":0.65,"T4":1,"T7":0.98,"T12":0.99,"T14":0.99,"T16":0.98},
{"f":0.7,"T4":1,"T7":0.99,"T12":0.98,"T14":0.97,"T16":0.99},
{"f":0.75,"T4":1,"T7":0.97,"T12":0.93,"T14":0.9,"T16":0.97},
{"f":0.8,"T4":0.98,"T7":0.92,"T12":0.85,"T14":0.7,"T16":0.95},
{"f":0.85,"T4":0.95,"T7":0.8,"T12":0.72,"T14":0.4,"T16":0.93},
{"f":0.9,"T4":0.92,"T7":0.75,"T12":0.7,"T14":0.2,"T16":0.9},
{"f":0.95,"T4":0.91,"T7":0.77,"T12":0.75,"T14":0.05,"T16":0.85},
{"f":1.0,"T4":0.87,"T7":0.72,"T12":0.72,"T14":0.3,"T16":0.8},
{"f":1.05,"T4":0.65,"T7":0.6,"T12":0.7,"T14":0.5,"T16":0.55},
{"f":1.1,"T4":0.3,"T7":0.3,"T12":0.4,"T14":0.7,"T16":0.3},
{"f":1.15,"T4":0.18,"T7":0.15,"T12":0.25,"T14":0.8,"T16":0.2},
{"f":1.2,"T4":0.8,"T7":0.5,"T12":0.5,"T14":0.97,"T16":0.15},
{"f":1.25,"T4":0.78,"T7":0.35,"T12":0.35,"T14":0.95,"T16":0.2},
{"f":1.3,"T4":0.3,"T7":0.2,"T12":0.22,"T14":0.7,"T16":0.5},
{"f":1.35,"T4":0.08,"T7":0.1,"T12":0.15,"T14":0.8,"T16":0.53},
{"f":1.4,"T4":0.1,"T7":0.12,"T12":0.3,"T14":0.5,"T16":0.3},
{"f":1.45,"T4":0.38,"T7":0.1,"T12":0.02,"T14":0.78,"T16":0.45},
{"f":1.5,"T4":0.25,"T7":0.06,"T12":0.15,"T14":0.35,"T16":0.3},
{"f":1.55,"T4":0.6,"T7":0.02,"T12":0.4,"T14":0.2,"T16":0.55},
{"f":1.6,"T4":0.75,"T7":0.03,"T12":0.45,"T14":0.15,"T16":0.2},
{"f":1.65,"T4":0.82,"T7":0.1,"T12":0.3,"T14":0.4,"T16":0.38},
{"f":1.7,"T4":0.85,"T7":0.05,"T12":0.08,"T14":0.58,"T16":0.3},
{"f":1.75,"T4":0.83,"T7":0.15,"T12":0.2,"T14":0.52,"T16":0.15},
{"f":1.8,"T4":0.86,"T7":0.28,"T12":0.5,"T14":0.5,"T16":0.08},
{"f":1.85,"T4":0.65,"T7":0.3,"T12":0.62,"T14":0.6,"T16":0.6},
{"f":1.9,"T4":0.8,"T7":0.35,"T12":0.8,"T14":0.8,"T16":0.55},
{"f":1.95,"T4":0.93,"T7":0.5,"T12":0.87,"T14":0.87,"T16":0.3},
{"f":2.0,"T4":0.95,"T7":0.62,"T12":0.89,"T14":0.85,"T16":0.06},
{"f":2.05,"T4":0.95,"T7":0.68,"T12":0.86,"T14":0.72,"T16":0.18},
{"f":2.1,"T4":0.95,"T7":0.3,"T12":0.93,"T14":0.45,"T16":0.1},
{"f":2.15,"T4":0.97,"T7":0.05,"T12":0.88,"T14":0.4,"T16":0.05},
{"f":2.2,"T4":0.96,"T7":0.2,"T12":0.85,"T14":0.75,"T16":0.08},
{"f":2.25,"T4":0.85,"T7":0.4,"T12":0.6,"T14":0.5,"T16":0.1},
{"f":2.3,"T4":0.5,"T7":0.7,"T12":0.45,"T14":0.75,"T16":0.03},
{"f":2.35,"T4":0.3,"T7":0.78,"T12":0.75,"T14":0.78,"T16":0.3},
{"f":2.4,"T4":0.14,"T7":0.8,"T12":0.8,"T14":0.82,"T16":0.35},
{"f":2.45,"T4":0.7,"T7":0.85,"T12":0.73,"T14":0.9,"T16":0.17},
{"f":2.5,"T4":0.82,"T7":0.9,"T12":0.6,"T14":0.95,"T16":0.25},
{"f":2.55,"T4":0.5,"T7":0.45,"T12":0.45,"T14":0.93,"T16":0.3},
{"f":2.6,"T4":0.03,"T7":0.15,"T12":0.2,"T14":0.85,"T16":0.2},
{"f":2.65,"T4":0.6,"T7":0.2,"T12":0.3,"T14":0.7,"T16":0.18},
{"f":2.7,"T4":0.74,"T7":0.35,"T12":0.4,"T14":0.35,"T16":0.2},
{"f":2.75,"T4":0.75,"T7":0.6,"T12":0.6,"T14":0.45,"T16":0.2},
{"f":2.8,"T4":0.83,"T7":0.75,"T12":0.5,"T14":0.75,"T16":0.35},
{"f":2.85,"T4":0.8,"T7":0.88,"T12":0.6,"T14":0.8,"T16":0.6},
{"f":2.9,"T4":0.88,"T7":0.85,"T12":0.05,"T14":0.7,"T16":0.68},
{"f":2.95,"T4":0.73,"T7":0.78,"T12":0.65,"T14":0.65,"T16":0.7},
{"f":3.0,"T4":0.8,"T7":0.8,"T12":0.7,"T14":0.2,"T16":0.72},
{"f":3.05,"T4":0.75,"T7":0.88,"T12":0.75,"T14":0.05,"T16":0.5},
{"f":3.1,"T4":0.86,"T7":0.8,"T12":0.6,"T14":0.2,"T16":0.55},
{"f":3.15,"T4":0.8,"T7":0.65,"T12":0.22,"T14":0.1,"T16":0.6},
{"f":3.2,"T4":0.75,"T7":0.5,"T12":0.4,"T14":0.07,"T16":0.7},
{"f":3.25,"T4":0.7,"T7":0.1,"T12":0.3,"T14":0.2,"T16":0.65},
{"f":3.3,"T4":0.35,"T7":0.3,"T12":0.35,"T14":0.4,"T16":0.72},
{"f":3.35,"T4":0.6,"T7":0.55,"T12":0.6,"T14":0.1,"T16":0.5},
{"f":3.4,"T4":0.94,"T7":0.6,"T12":0.55,"T14":0.3,"T16":0.8},
{"f":3.45,"T4":0.95,"T7":0.5,"T12":0.4,"T14":0.45,"T16":0.95},
{"f":3.5,"T4":0.96,"T7":0.3,"T12":0.7,"T14":0.4,"T16":0.8},
{"f":3.55,"T4":0.98,"T7":0.35,"T12":0.5,"T14":0.12,"T16":0.55},
{"f":3.6,"T4":0.97,"T7":0.45,"T12":0.01,"T14":0.2,"T16":0.35},
{"f":3.65,"T4":0.95,"T7":0.44,"T12":0.3,"T14":0.5,"T16":0.55},
{"f":3.7,"T4":0.76,"T7":0.8,"T12":0.4,"T14":0.6,"T16":0.88},
{"f":3.75,"T4":0.85,"T7":0.85,"T12":0.55,"T14":0.65,"T16":0.75},
{"f":3.8,"T4":0.98,"T7":0.9,"T12":0.7,"T14":0.75,"T16":0.9},
{"f":3.85,"T4":0.99,"T7":0.95,"T12":0.9,"T14":0.9,"T16":0.95},
{"f":3.9,"T4":0.99,"T7":0.98,"T12":0.92,"T14":0.98,"T16":0.97},
{"f":3.95,"T4":0.98,"T7":0.98,"T12":0.88,"T14":0.95,"T16":0.95},
{"f":4.0,"T4":0.85,"T7":0.9,"T12":0.8,"T14":0.85,"T16":0.6},
{"f":4.05,"T4":0.6,"T7":0.6,"T12":0.57,"T14":0.7,"T16":0.25},
{"f":4.1,"T4":0.45,"T7":0.3,"T12":0.65,"T14":0.6,"T16":0.08},
{"f":4.15,"T4":0.22,"T7":0.1,"T12":0.65,"T14":0.5,"T16":0.09},
{"f":4.2,"T4":0.35,"T7":0.1,"T12":0.7,"T14":0.45,"T16":0.03},
{"f":4.25,"T4":0.42,"T7":0.08,"T12":0.5,"T14":0.55,"T16":0.1},
{"f":4.3,"T4":0.38,"T7":0.1,"T12":0.3,"T14":0.65,"T16":0.25},
{"f":4.35,"T4":0.6,"T7":0.3,"T12":0.7,"T14":0.7,"T16":0.3},
{"f":4.4,"T4":0.72,"T7":0.55,"T12":0.65,"T14":0.75,"T16":0.12},
{"f":4.45,"T4":0.85,"T7":0.6,"T12":0.3,"T14":0.55,"T16":0.3},
{"f":4.5,"T4":0.65,"T7":0.55,"T12":0.42,"T14":0.6,"T16":0.6},
{"f":4.55,"T4":0.56,"T7":0.75,"T12":0.55,"T14":0.7,"T16":0.53},
{"f":4.6,"T4":0.7,"T7":0.5,"T12":0.45,"T14":0.65,"T16":0.45},
{"f":4.65,"T4":0.4,"T7":0.3,"T12":0.7,"T14":0.64,"T16":0.48},
{"f":4.7,"T4":0.12,"T7":0.03,"T12":0.5,"T14":0.4,"T16":0.2},
{"f":4.75,"T4":0.12,"T7":0.2,"T12":0.2,"T14":0.5,"T16":0.4},
{"f":4.8,"T4":0.3,"T7":0.3,"T12":0,"T14":0.4,"T16":0.15},
{"f":4.85,"T4":0.52,"T7":0.18,"T12":0.05,"T14":0.4,"T16":0.3},
{"f":4.9,"T4":0.27,"T7":0.3,"T12":0.04,"T14":0.5,"T16":0.5},
{"f":4.95,"T4":0.3,"T7":0.45,"T12":0.15,"T14":0.6,"T16":0.6},
{"f":5.0,"T4":0.54,"T7":0.55,"T12":0.25,"T14":0.7,"T16":0.7},
{"f":5.05,"T4":0.42,"T7":0.6,"T12":0.18,"T14":0.75,"T16":0.75},
{"f":5.1,"T4":0.2,"T7":0.7,"T12":0.12,"T14":0.6,"T16":0.6},
{"f":5.15,"T4":0.08,"T7":0.75,"T12":0.4,"T14":0.45,"T16":0.55},
{"f":5.2,"T4":0.35,"T7":0.6,"T12":0.6,"T14":0.5,"T16":0.6},
{"f":5.25,"T4":0.6,"T7":0.5,"T12":0.07,"T14":0.45,"T16":0.7},
{"f":5.3,"T4":0.75,"T7":0.55,"T12":0.5,"T14":0.6,"T16":0.55},
{"f":5.35,"T4":0.8,"T7":0.7,"T12":0.7,"T14":0.75,"T16":0.6},
{"f":5.4,"T4":0.75,"T7":0.75,"T12":0.55,"T14":0.7,"T16":0.75},
{"f":5.45,"T4":0.4,"T7":0.6,"T12":0.4,"T14":0.65,"T16":0.7},
{"f":5.5,"T4":0.09,"T7":0.65,"T12":0.16,"T14":0.68,"T16":0.65},
{"f":5.55,"T4":0.12,"T7":0.7,"T12":0.2,"T14":0.7,"T16":0.55},
{"f":5.6,"T4":0.14,"T7":0.5,"T12":0.55,"T14":0.75,"T16":0.5},
{"f":5.65,"T4":0.5,"T7":0.3,"T12":0.48,"T14":0.8,"T16":0.6},
{"f":5.7,"T4":0.8,"T7":0.7,"T12":0.75,"T14":0.85,"T16":0.75},
{"f":5.75,"T4":0.85,"T7":0.8,"T12":0.8,"T14":0.88,"T16":0.8},
{"f":5.8,"T4":0.88,"T7":0.85,"T12":0.85,"T14":0.9,"T16":0.85},
{"f":5.85,"T4":0.9,"T7":0.9,"T12":0.9,"T14":0.88,"T16":0.88},
{"f":5.9,"T4":0.91,"T7":0.92,"T12":0.92,"T14":0.85,"T16":0.85},
{"f":5.95,"T4":0.9,"T7":0.88,"T12":0.82,"T14":0.82,"T16":0.7},
{"f":6.0,"T4":0.74,"T7":0.55,"T12":0.3,"T14":0.8,"T16":0.25}
]
},
"columns":2,
"bounds":"flush",
"spacing":{"row":138,"column":76},
"resolve":{"scale":{"color":"independent","strokeDash":"independent","strokeWidth":"independent"},"legend":{"color":"independent","strokeDash":"independent","strokeWidth":"independent"}},
"concat":[
 {"width":450,"height":355,
  "title":{"text":"(a) Auto-spectra function"},
  "layer":[
   {"data":{"name":"a"},
    "transform":[{"fold":["T1","T2","T5","T8","T9"],"as":["s","v"]}],
    "mark":{"type":"line","clip":true},
    "encoding":{
     "x":{"field":"f","type":"quantitative","scale":{"domain":[0,6],"nice":false,"zero":false},"axis":{"title":"Frequency [Hz]","values":[0,1,2,3,4,5,6],"format":"~r"}},
     "y":{"field":"v","type":"quantitative","scale":{"domain":[0,2.5],"nice":false},"axis":{"title":"Auto-spectra magnitude [m/s²]","values":[0,0.5,1,1.5,2,2.5],"format":"~r"}},
     "color":{"field":"s","type":"nominal","scale":{"domain":["T1","T2","T5","T8","T9"],"range":["#0000ff","#008000","#ff0000","#00bfbf","#000000"]},"legend":{"title":null,"labelExpr":"'Transducer ' + substring(datum.label, 1)"}},
     "strokeDash":{"field":"s","type":"nominal","scale":{"domain":["T1","T2","T5","T8","T9"],"range":[[1,0],[4,2,1.5,2],[1.3,2],[5,2.5],[1.2,2.5]]},"legend":{"title":null,"labelExpr":"'Transducer ' + substring(datum.label, 1)"}},
     "strokeWidth":{"field":"s","type":"nominal","scale":{"domain":["T1","T2","T5","T8","T9"],"range":[2,1.4,1.4,1.4,1.4]},"legend":{"title":null,"labelExpr":"'Transducer ' + substring(datum.label, 1)"}}
    }},
   {"data":{"values":[{}]},
    "mark":{"type":"text","align":"left","baseline":"bottom","dy":-5,"fontSize":15,"color":"black"},
    "encoding":{
     "x":{"datum":0,"type":"quantitative","axis":{"orient":"top","labels":false,"title":null,"values":[0,1,2,3,4,5,6]}},
     "y":{"datum":2.5,"type":"quantitative","axis":{"orient":"right","labels":false,"title":null,"values":[0,0.5,1,1.5,2,2.5]}},
     "text":{"value":"x 10⁻⁵"}}}
  ],
  "resolve":{"axis":{"x":"independent","y":"independent"}}
 },
 {"width":450,"height":355,
  "title":{"text":"(b) Cross-spectra function (magnitude)"},
  "layer":[
   {"data":{"name":"b"},
    "transform":[{"fold":["T4","T7","T12","T14","T16"],"as":["s","v"]}],
    "mark":{"type":"line","clip":true},
    "encoding":{
     "x":{"field":"f","type":"quantitative","scale":{"domain":[0,6],"nice":false,"zero":false},"axis":{"title":"Frequency [Hz]","values":[0,1,2,3,4,5,6],"format":"~r"}},
     "y":{"field":"v","type":"quantitative","scale":{"domain":[0,1.5],"nice":false},"axis":{"title":"Cross-spectra Magnitude [m/s²]","values":[0,0.5,1,1.5],"format":"~r"}},
     "color":{"field":"s","type":"nominal","scale":{"domain":["T4","T7","T12","T14","T16"],"range":["#0000ff","#008000","#ff0000","#00bfbf","#000000"]},"legend":{"title":null,"labelExpr":"'Transducer ' + substring(datum.label, 1)"}},
     "strokeDash":{"field":"s","type":"nominal","scale":{"domain":["T4","T7","T12","T14","T16"],"range":[[1,0],[4,2,1.5,2],[1.3,2],[5,2.5],[1.2,2.5]]},"legend":{"title":null,"labelExpr":"'Transducer ' + substring(datum.label, 1)"}},
     "strokeWidth":{"field":"s","type":"nominal","scale":{"domain":["T4","T7","T12","T14","T16"],"range":[2,1.4,1.4,1.4,1.4]},"legend":{"title":null,"labelExpr":"'Transducer ' + substring(datum.label, 1)"}}
    }},
   {"data":{"values":[{}]},
    "mark":{"type":"text","align":"left","baseline":"bottom","dy":-5,"fontSize":15,"color":"black"},
    "encoding":{
     "x":{"datum":0,"type":"quantitative","axis":{"orient":"top","labels":false,"title":"Reference Transducer 2","titlePadding":8,"values":[0,1,2,3,4,5,6]}},
     "y":{"datum":1.5,"type":"quantitative","axis":{"orient":"right","labels":false,"title":null,"values":[0,0.5,1,1.5]}},
     "text":{"value":"x 10⁻⁵"}}}
  ],
  "resolve":{"axis":{"x":"independent","y":"independent"}}
 },
 {"width":450,"height":359,
  "title":{"text":"(c) Cross-spectra function (phase)"},
  "layer":[
   {"data":{"name":"c"},
    "transform":[{"fold":["T4","T7","T12","T14","T16"],"as":["s","v"]}],
    "mark":{"type":"line","clip":true},
    "encoding":{
     "x":{"field":"f","type":"quantitative","scale":{"domain":[0,5],"nice":false,"zero":false},"axis":{"title":"Frequency [Hz]","values":[0,1,2,3,4,5],"format":"d"}},
     "y":{"field":"v","type":"quantitative","scale":{"domain":[-180,180],"nice":false},"axis":{"title":"Cross-spectra Phase [º]","values":[-150,-100,-50,0,50,100,150],"format":"d"}},
     "color":{"field":"s","type":"nominal","scale":{"domain":["T4","T7","T12","T14","T16"],"range":["#0000ff","#008000","#ff0000","#00bfbf","#000000"]},"legend":{"title":null,"labelExpr":"'Transducer ' + substring(datum.label, 1)","labelFontSize":16,"rowPadding":5}},
     "strokeDash":{"field":"s","type":"nominal","scale":{"domain":["T4","T7","T12","T14","T16"],"range":[[1,0],[4,2,1.5,2],[1.3,2],[5,2.5],[1.2,2.5]]},"legend":{"title":null,"labelExpr":"'Transducer ' + substring(datum.label, 1)","labelFontSize":16,"rowPadding":5}},
     "strokeWidth":{"field":"s","type":"nominal","scale":{"domain":["T4","T7","T12","T14","T16"],"range":[2,1.4,1.4,1.4,1.4]},"legend":{"title":null,"labelExpr":"'Transducer ' + substring(datum.label, 1)","labelFontSize":16,"rowPadding":5}}
    }},
   {"data":{"values":[{}]},
    "mark":{"type":"text","fontSize":14,"color":"black"},
    "encoding":{
     "x":{"datum":0,"type":"quantitative","axis":{"orient":"top","labels":false,"title":"Reference Transducer 2","titlePadding":8,"values":[0,1,2,3,4,5]}},
     "y":{"datum":0,"type":"quantitative","axis":{"orient":"right","labels":false,"title":null,"values":[-150,-100,-50,0,50,100,150]}},
     "text":{"value":""}}}
  ],
  "resolve":{"axis":{"x":"independent","y":"independent"}}
 },
 {"width":451,"height":358,
  "title":{"text":"(d) Coherence function"},
  "layer":[
   {"data":{"name":"d"},
    "transform":[{"fold":["T4","T7","T12","T14","T16"],"as":["s","v"]}],
    "mark":{"type":"line","clip":true},
    "encoding":{
     "x":{"field":"f","type":"quantitative","scale":{"domain":[0,6],"nice":false,"zero":false},"axis":{"title":"Frequency [Hz]","values":[0,1,2,3,4,5,6],"format":"~r"}},
     "y":{"field":"v","type":"quantitative","scale":{"domain":[0,1],"nice":false},"axis":{"title":"Coherence","values":[0,0.1,0.2,0.3,0.4,0.5,0.6,0.7,0.8,0.9,1],"format":"~r"}},
     "color":{"field":"s","type":"nominal","scale":{"domain":["T4","T7","T12","T14","T16"],"range":["#0000ff","#008000","#ff0000","#00bfbf","#000000"]},"legend":{"title":null,"labelExpr":"'Transducer ' + substring(datum.label, 1)"}},
     "strokeDash":{"field":"s","type":"nominal","scale":{"domain":["T4","T7","T12","T14","T16"],"range":[[1,0],[4,2,1.5,2],[1.3,2],[5,2.5],[1.2,2.5]]},"legend":{"title":null,"labelExpr":"'Transducer ' + substring(datum.label, 1)"}},
     "strokeWidth":{"field":"s","type":"nominal","scale":{"domain":["T4","T7","T12","T14","T16"],"range":[2,1.4,1.4,1.4,1.4]},"legend":{"title":null,"labelExpr":"'Transducer ' + substring(datum.label, 1)"}}
    }},
   {"data":{"values":[{}]},
    "mark":{"type":"text","fontSize":14,"color":"black"},
    "encoding":{
     "x":{"datum":0,"type":"quantitative","axis":{"orient":"top","labels":false,"title":"Reference Transducer 2","titlePadding":8,"values":[0,1,2,3,4,5,6]}},
     "y":{"datum":0,"type":"quantitative","axis":{"orient":"right","labels":false,"title":null,"values":[0,0.1,0.2,0.3,0.4,0.5,0.6,0.7,0.8,0.9,1]}},
     "text":{"value":""}}}
  ],
  "resolve":{"axis":{"x":"independent","y":"independent"}}
 }
]
}
